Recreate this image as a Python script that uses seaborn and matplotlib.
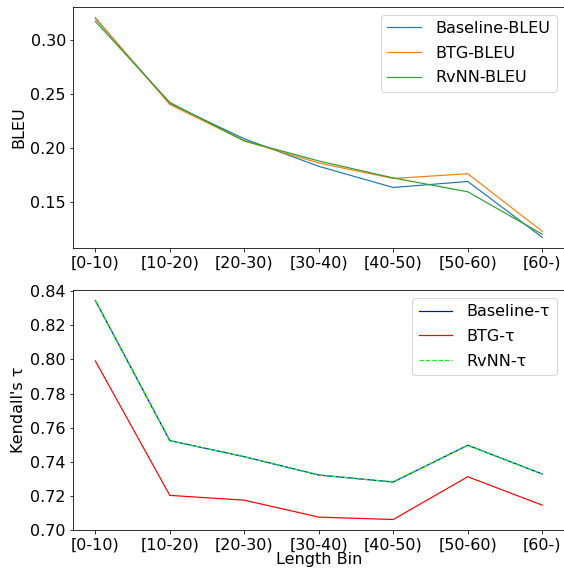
import matplotlib
matplotlib.use("Agg")
import matplotlib.pyplot as plt
from matplotlib.ticker import MultipleLocator
import seaborn as sns
import pandas as pd

bins = ["[0-10)", "[10-20)", "[20-30)", "[30-40)", "[40-50)", "[50-60)", "[60-)"]

baseline_bleu = [0.3205, 0.2412, 0.2084, 0.1828, 0.1631, 0.1687, 0.1167]
btg_bleu = [0.3212, 0.2404, 0.2065, 0.1859, 0.1715, 0.1759, 0.1223]
rvnn_bleu = [0.3178, 0.2423, 0.2065, 0.1878, 0.1720, 0.1591, 0.1196]

baseline_tau = [0.8344, 0.7525, 0.7431, 0.7324, 0.7283, 0.7498, 0.7330]
btg_tau = [0.7991, 0.7205, 0.7177, 0.7078, 0.7064, 0.7314, 0.7148]
rvnn_tau = [0.8344, 0.7525, 0.7431, 0.7324, 0.7283, 0.7498, 0.7330]

plt.rcParams["font.family"] = ["DejaVu Sans"]
plt.rcParams["font.size"] = 16

DPI = 72
fig = plt.figure(figsize=(564 / DPI, 572 / DPI), dpi=DPI)
ax1 = fig.add_axes([0.1294, 0.5659, 0.8716, 0.4224])
ax2 = fig.add_axes([0.1294, 0.0726, 0.8716, 0.4204])

leg_kw = dict(loc="upper right", fontsize=16, labelspacing=0.6,
              handlelength=2.1, handletextpad=0.9)

df1 = pd.DataFrame({"bin": bins, "Baseline-BLEU": baseline_bleu,
                    "BTG-BLEU": btg_bleu, "RvNN-BLEU": rvnn_bleu})
for name, col in [("Baseline-BLEU", "#1f77b4"), ("BTG-BLEU", "#ff7f0e"), ("RvNN-BLEU", "#2ca02c")]:
    sns.lineplot(data=df1, x="bin", y=name, ax=ax1, color=col, linewidth=1.2,
                 label=name, sort=False)
ax1.set_ylabel("BLEU")
ax1.set_xlabel("")
ax1.legend(**leg_kw)

df2 = pd.DataFrame({"bin": bins, "Baseline-τ": baseline_tau,
                    "BTG-τ": btg_tau, "RvNN-τ": rvnn_tau})
sns.lineplot(data=df2, x="bin", y="Baseline-τ", ax=ax2, color="#0000ff", linewidth=1.2,
             label="Baseline-τ", sort=False)
sns.lineplot(data=df2, x="bin", y="BTG-τ", ax=ax2, color="#ff0000", linewidth=1.2,
             label="BTG-τ", sort=False)
sns.lineplot(data=df2, x="bin", y="RvNN-τ", ax=ax2, color="#00ff00", linewidth=1.2,
             linestyle="--", label="RvNN-τ", sort=False)
ax2.set_ylabel("Kendall's τ")
ax2.set_xlabel("Length Bin", labelpad=0)
ax2.set_ylim(0.70, 0.8405)
ax2.yaxis.set_major_locator(MultipleLocator(0.02))
ax2.legend(**leg_kw)

fig.savefig("out.png", dpi=DPI)
